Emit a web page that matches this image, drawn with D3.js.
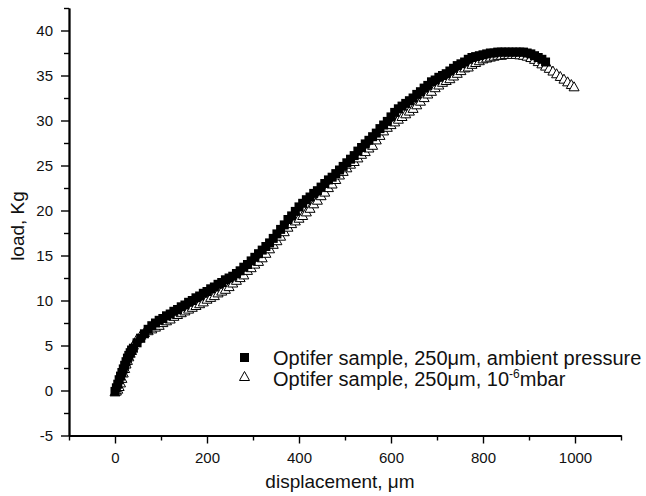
<!DOCTYPE html>
<html>
<head>
<meta charset="utf-8">
<script src="https://cdn.jsdelivr.net/npm/d3@7"></script>
<style>
  body { margin: 0; background: #fff; }
  svg { font-family: "Liberation Sans", Arial, sans-serif; }
</style>
</head>
<body>
<div id="chart"></div>
<script>
// ambient pressure run (filled squares)
const dispAmbient = [0, 3, 6, 9, 12, 15, 18, 21, 24, 27, 30, 33, 36, 40, 48, 56, 64, 72, 80, 88, 96, 104, 112, 120, 128, 136, 144, 152, 160, 168, 176, 184, 192, 200, 208, 216, 224, 232, 240, 248, 256, 264, 272, 280, 288, 296, 304, 312, 320, 328, 336, 344, 352, 360, 368, 376, 384, 392, 400, 408, 416, 424, 432, 440, 448, 456, 464, 472, 480, 488, 496, 504, 512, 520, 528, 536, 544, 552, 560, 568, 576, 584, 592, 600, 608, 616, 624, 632, 640, 648, 656, 664, 672, 680, 688, 696, 704, 712, 720, 728, 736, 744, 752, 760, 768, 776, 784, 792, 800, 808, 816, 824, 832, 840, 848, 856, 864, 872, 880, 888, 896, 904, 912, 920, 928, 936]
const loadAmbient = [-0.1, 0.3, 0.7, 1.2, 1.6, 2.0, 2.4, 2.8, 3.2, 3.6, 3.9, 4.2, 4.5, 4.7, 5.3, 5.8, 6.3, 6.8, 7.2, 7.5, 7.8, 8.0, 8.3, 8.5, 8.8, 9.0, 9.3, 9.5, 9.8, 10.0, 10.3, 10.5, 10.8, 11.0, 11.3, 11.5, 11.8, 12.0, 12.3, 12.5, 12.7, 13.0, 13.3, 13.7, 14.0, 14.4, 14.8, 15.2, 15.6, 16.0, 16.4, 16.9, 17.4, 17.9, 18.4, 19.0, 19.4, 19.9, 20.4, 20.8, 21.2, 21.5, 21.9, 22.2, 22.6, 23.0, 23.4, 23.7, 24.1, 24.5, 24.9, 25.3, 25.7, 26.1, 26.6, 27.0, 27.4, 27.8, 28.2, 28.6, 29.1, 29.5, 29.9, 30.4, 30.9, 31.3, 31.6, 31.9, 32.2, 32.5, 32.9, 33.2, 33.6, 33.9, 34.3, 34.5, 34.8, 35.0, 35.2, 35.5, 35.8, 36.1, 36.3, 36.5, 36.8, 37.0, 37.1, 37.2, 37.3, 37.4, 37.5, 37.5, 37.6, 37.6, 37.6, 37.6, 37.6, 37.6, 37.6, 37.6, 37.5, 37.4, 37.2, 37.0, 36.8, 36.5]

// 10^-6 mbar run (open triangles)
const dispVacuum = [0, 3, 6, 9, 12, 15, 18, 21, 24, 27, 30, 33, 36, 40, 48, 56, 64, 72, 80, 88, 96, 104, 112, 120, 128, 136, 144, 152, 160, 168, 176, 184, 192, 200, 208, 216, 224, 232, 240, 248, 256, 264, 272, 280, 288, 296, 304, 312, 320, 328, 336, 344, 352, 360, 368, 376, 384, 392, 400, 408, 416, 424, 432, 440, 448, 456, 464, 472, 480, 488, 496, 504, 512, 520, 528, 536, 544, 552, 560, 568, 576, 584, 592, 600, 608, 616, 624, 632, 640, 648, 656, 664, 672, 680, 688, 696, 704, 712, 720, 728, 736, 744, 752, 760, 768, 776, 784, 792, 800, 808, 816, 824, 832, 840, 848, 856, 864, 872, 880, 888, 896, 904, 912, 920, 928, 936, 944, 952, 960, 968, 976, 984, 992, 998]
const loadVacuum = [-0.1, 0.0, 0.2, 0.5, 0.9, 1.4, 2.0, 2.5, 3.0, 3.4, 3.8, 4.2, 4.5, 5.1, 5.8, 6.2, 6.5, 6.7, 6.9, 7.1, 7.3, 7.6, 7.8, 8.0, 8.3, 8.5, 8.7, 8.9, 9.1, 9.3, 9.5, 9.7, 9.9, 10.2, 10.4, 10.6, 10.9, 11.1, 11.3, 11.6, 12.0, 12.3, 12.6, 12.9, 13.4, 13.7, 14.1, 14.4, 14.8, 15.3, 15.8, 16.3, 16.7, 17.2, 17.7, 18.2, 18.6, 18.9, 19.2, 19.5, 19.9, 20.3, 20.8, 21.2, 21.7, 22.1, 22.6, 23.0, 23.5, 24.0, 24.4, 24.8, 25.2, 25.5, 25.9, 26.3, 26.6, 27.0, 27.3, 27.9, 28.4, 28.9, 29.3, 29.6, 29.9, 30.2, 30.5, 30.8, 31.1, 31.4, 31.8, 32.2, 32.6, 33.0, 33.3, 33.7, 34.0, 34.3, 34.5, 34.7, 35.0, 35.3, 35.6, 35.9, 36.0, 36.3, 36.5, 36.7, 36.9, 37.0, 37.1, 37.2, 37.3, 37.3, 37.4, 37.4, 37.4, 37.4, 37.35, 37.3, 37.2, 37.05, 36.85, 36.6, 36.35, 36.1, 35.85, 35.55, 35.25, 34.95, 34.65, 34.35, 34.05, 33.8]

const xMajor = [0, 200, 400, 600, 800, 1000]
const xMinor = [-100, 100, 300, 500, 700, 900, 1100]
const yMajor = [-5, 0, 5, 10, 15, 20, 25, 30, 35, 40]
const yMinor = [-2.5, 2.5, 7.5, 12.5, 17.5, 22.5, 27.5, 32.5, 37.5, 42.5]

const svg = d3.select("#chart").append("svg").attr("width", 646).attr("height", 496)

const x = d3.scaleLinear().domain([-100, 1100]).range([69, 621])
const y = d3.scaleLinear().domain([-5, 42.5]).range([435.5, 8])

// axes
function drawAxes(){
  const gx = svg.append("g").attr("transform", `translate(0,${y(-5)})`)
  gx.call(d3.axisBottom(x).tickValues(xMajor).tickSize(8).tickSizeOuter(0).tickPadding(9).tickFormat(d => d))
  gx.append("g").call(d3.axisBottom(x).tickValues(xMinor).tickSize(5).tickSizeOuter(0).tickFormat(""))

  const gy = svg.append("g").attr("transform", `translate(${x(-100)},0)`)
  gy.call(d3.axisLeft(y).tickValues(yMajor).tickSize(8).tickSizeOuter(0).tickPadding(8).tickFormat(d => d))
  gy.append("g").call(d3.axisLeft(y).tickValues(yMinor).tickSize(5).tickSizeOuter(0).tickFormat(""))

  svg.selectAll(".domain").attr("stroke", "#000").attr("stroke-width", 1.8)
  svg.selectAll(".tick line").attr("stroke", "#000").attr("stroke-width", 1.4)
  svg.selectAll(".tick text").attr("font-size", "15px").attr("fill", "#111")
    .attr("font-family", "Liberation Sans, Arial, sans-serif")
}
drawAxes()

svg.append("text").attr("x", 340).attr("y", 487.5).attr("text-anchor", "middle")
  .attr("font-size", "19px").attr("fill", "#111").text("displacement, μm")

svg.append("text").attr("transform", "translate(24,226) rotate(-90)").attr("text-anchor", "middle")
  .attr("font-size", "19px").attr("fill", "#111").text("load, Kg")

// markers: triangles underneath, squares on top
const sq = 9
const triW = 10, triH = 9
const triPath = `M0,${-triH/2}L${triW/2},${triH/2}L${-triW/2},${triH/2}Z`

const ambient = dispAmbient.map((d, i) => ({d: d, l: loadAmbient[i]}))
const vacuum = dispVacuum.map((d, i) => ({d: d, l: loadVacuum[i]}))

svg.append("g").selectAll("path").data(vacuum).enter().append("path")
  .attr("transform", p => `translate(${x(p.d)},${y(p.l)})`)
  .attr("d", triPath).attr("fill", "#fff").attr("stroke", "#000").attr("stroke-width", 1)

svg.append("g").selectAll("rect").data(ambient).enter().append("rect")
  .attr("x", p => x(p.d) - sq/2).attr("y", p => y(p.l) - sq/2)
  .attr("width", sq).attr("height", sq).attr("fill", "#000")

// legend
const lg = svg.append("g")
lg.append("rect").attr("x", 244.5 - 4.5).attr("y", 357.5 - 4.5).attr("width", 9).attr("height", 9).attr("fill", "#000")
lg.append("path").attr("transform", "translate(244.5,376)").attr("d", triPath)
  .attr("fill", "#fff").attr("stroke", "#000").attr("stroke-width", 1)
lg.append("text").attr("x", 273).attr("y", 364.5).attr("font-size", "20px").attr("fill", "#111")
  .text("Optifer sample, 250μm, ambient pressure")
const t2 = lg.append("text").attr("x", 273).attr("y", 386).attr("font-size", "20px").attr("fill", "#111")
t2.append("tspan").text("Optifer sample, 250μm, 10")
t2.append("tspan").attr("font-size", "12px").attr("dy", -8).text("-6")
t2.append("tspan").attr("dy", 8).text("mbar")
</script>
</body>
</html>
